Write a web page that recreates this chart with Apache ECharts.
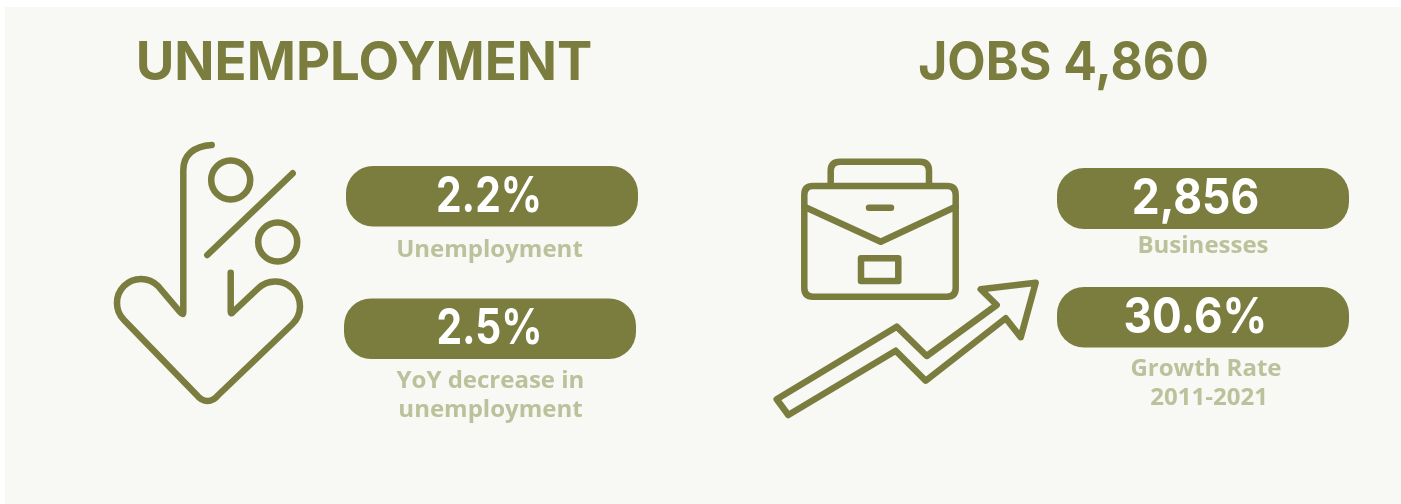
<!DOCTYPE html>
<html>
<head>
<meta charset="utf-8">
<title>Unemployment and jobs</title>
<script src="https://cdn.jsdelivr.net/npm/echarts@6/dist/echarts.min.js"></script>
<style>
  html, body { margin: 0; padding: 0; background: #fff; }
  #chart { width: 1401px; height: 504px; }
</style>
</head>
<body>
<div id="chart"></div>
<script>
// text and values
const headings = ['UNEMPLOYMENT', 'JOBS 4,860'];
const statValues = ['2.2%', '2.5%', '2,856', '30.6%'];
const statLabels = ['Unemployment', 'YoY decrease in\nunemployment', 'Businesses', 'Growth Rate\n 2011-2021'];

const olive = '#7a7d3e';
const pale = '#bbc19a';
const headFont = 'Inter, sans-serif';
const labelFont = '"Open Sans", sans-serif';

// headings are squeezed a bit, the original face is narrower than Inter
const headX = [364, 1063.5];
const headSqueeze = [0.978, 0.923];

// placement of the four stat blocks: pill box, number centre, label centre
const pills = [
  {x: 346, y: 166, w: 292, h: 60.5, vx: 489, sx: 0.83, lx: 489.5, ly: 250.5},
  {x: 344, y: 298.5, w: 292, h: 60.5, vx: 489.5, sx: 0.83, lx: 490.5, ly: 395.5},
  {x: 1057, y: 168, w: 292, h: 61, vx: 1195.5, sx: 0.905, lx: 1203, ly: 246.5},
  {x: 1057, y: 287, w: 292, h: 60.5, vx: 1195.5, sx: 0.9, lx: 1206, ly: 384}
];

const myChart = echarts.init(document.getElementById('chart'), null, {renderer: 'canvas'});

function line(d) {
  return {type: 'path', shape: {pathData: d}, style: {fill: 'none', stroke: olive, lineWidth: 6.5, lineCap: 'round', lineJoin: 'round'}};
}
function ring(cx, cy, r) {
  return {type: 'circle', shape: {cx: cx, cy: cy, r: r}, style: {fill: 'none', stroke: olive, lineWidth: 6.5}};
}

// down arrow with percent sign
const leftIcon = [
  line('M211.7 145 C194 146 183.3 155 183.3 170 L183.3 312 Q183.3 316 180 312 L158 286 A24 24 0 0 0 124 320 L196.7 395 C203 403 212 403 218.3 395 L292.5 324 A24.7 24.7 0 0 0 258 288.5 L233 312 Q230.7 315 230.7 311 L230.7 272.7'),
  ring(230.7, 180, 19.5),
  ring(277.7, 242, 19.5),
  line('M207.3 255 L292.7 173.3')
];

// briefcase with rising arrow
const rightIcon = [
  line('M830.7 185 L830.7 171 Q830.7 161.7 840 161.7 L920 161.7 Q929 161.7 929 171 L929 185'),
  line('M813 186 L947 186 Q955.7 186 955.7 195 L955.7 288 Q955.7 296.7 947 296.7 L813 296.7 Q804.3 296.7 804.3 288 L804.3 195 Q804.3 186 813 186 Z'),
  line('M804.3 206.7 L880.7 241.7 L955.7 206.7'),
  line('M869 207.7 L891 207.7'),
  line('M861 258.3 L898.3 258.3 L898.3 281 L861 281 Z'),
  line('M776.7 399.3 L896.7 326.7 L926.7 356 L996.7 305 L980.7 289.3 L1035.7 282.7 L1020.7 337.3 L1005.7 318.3 L925.7 380.7 L895.7 350.7 L788.3 415 Z')
];

function renderAll() {
  const children = [
    {type: 'rect', shape: {x: 5, y: 7, width: 1396, height: 497}, style: {fill: '#f8f8f4'}}
  ].concat(leftIcon, rightIcon);

  headings.forEach(function (t, i) {
    children.push({type: 'text', x: headX[i], y: 64, scaleX: headSqueeze[i], style: {text: t, x: 0, y: 0, textAlign: 'center', textVerticalAlign: 'middle',
      fontFamily: headFont, fontSize: 54, fontWeight: 700, fill: olive}});
  });

  statValues.forEach(function (v, i) {
    const p = pills[i];
    children.push({type: 'rect', shape: {x: p.x, y: p.y, width: p.w, height: p.h, r: 27}, style: {fill: olive}});
    children.push({type: 'text', x: p.vx, y: p.y + p.h / 2 + 1, scaleX: p.sx, style: {text: v, x: 0, y: 0, textAlign: 'center', textVerticalAlign: 'middle',
      fontFamily: headFont, fontSize: 49, fontWeight: 700, fill: '#fff'}});
    children.push({type: 'text', style: {text: statLabels[i], x: p.lx, y: p.ly, textAlign: 'center', textVerticalAlign: 'middle',
      fontFamily: labelFont, fontSize: 24, fontWeight: 700, lineHeight: 29, fill: pale}});
  });
  return {type: 'group', children: children};
}

myChart.setOption({
  animation: false,
  backgroundColor: '#ffffff',
  series: [{type: 'custom', coordinateSystem: 'none', data: [0], silent: true, renderItem: renderAll}]
});
</script>
</body>
</html>
